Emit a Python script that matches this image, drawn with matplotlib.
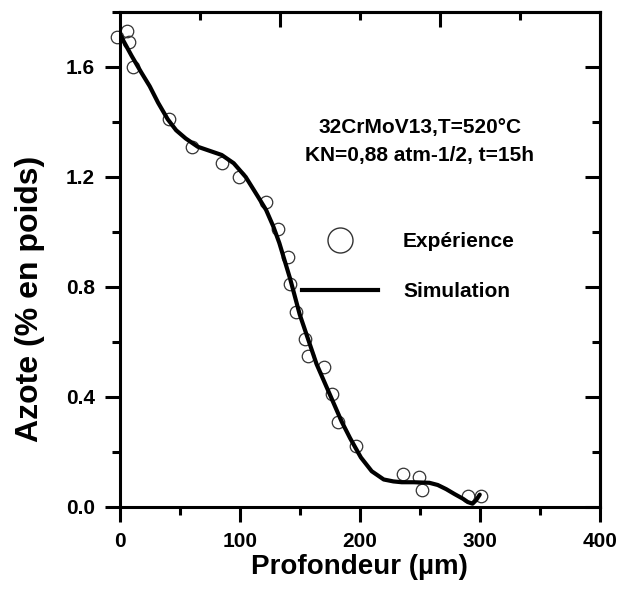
import matplotlib
matplotlib.use("Agg")
import matplotlib.pyplot as plt
from matplotlib.lines import Line2D
from matplotlib.ticker import MultipleLocator, FixedLocator

plt.rcParams['font.family'] = ['Liberation Sans', 'DejaVu Sans']
plt.rcParams['font.weight'] = 'bold'

# Experimental data (depth in µm, nitrogen wt%)
exp_x = [-2, 6, 8, 11, 41, 60, 85, 99, 122, 132, 140, 142, 147, 154, 157, 170,
         177, 182, 197, 236, 249, 252, 290, 301]
exp_y = [1.71, 1.73, 1.69, 1.60, 1.41, 1.31, 1.25, 1.20, 1.11, 1.01, 0.91, 0.81,
         0.71, 0.61, 0.55, 0.51, 0.41, 0.31, 0.22, 0.12, 0.11, 0.06, 0.04, 0.04]

# Simulation curve
sim_x = [0, 5, 10, 18, 25, 32, 40, 47, 55, 65, 75, 85, 95, 105, 115, 122, 128,
         133, 142, 150, 157, 164, 171, 178, 185, 192, 201, 210, 220, 228, 235,
         245, 258, 265, 272, 279, 286, 290, 294, 297, 300]
sim_y = [1.72, 1.68, 1.64, 1.58, 1.53, 1.47, 1.41, 1.37, 1.34, 1.31, 1.295,
         1.28, 1.25, 1.20, 1.13, 1.08, 1.02, 0.96, 0.83, 0.70, 0.61, 0.52, 0.45,
         0.38, 0.31, 0.25, 0.18, 0.13, 0.10, 0.093, 0.09, 0.09, 0.088, 0.08,
         0.065, 0.047, 0.03, 0.018, 0.012, 0.025, 0.045]

x_ticks = [0, 100, 200, 300, 400]
y_ticks = [0.0, 0.4, 0.8, 1.2, 1.6]
top_major = [133.3, 266.7]
top_minor = [66.7, 200, 333.3]

fig = plt.figure(figsize=(6.3, 5.9), dpi=100)
ax = fig.add_axes([0.19, 0.1407, 0.762, 0.839])

ax.plot(sim_x, sim_y, color='black', lw=3.0, solid_capstyle='round',
        solid_joinstyle='round', zorder=3)
ax.plot(exp_x, exp_y, linestyle='none', marker='o', markersize=9,
        markerfacecolor='none', markeredgecolor='#333333', markeredgewidth=0.9,
        clip_on=False, zorder=2)

ax.set_xlim(0, 400)
ax.set_ylim(0, 1.8)
ax.set_xticks(x_ticks)
ax.set_yticks(y_ticks)
ax.set_xticklabels([str(v) for v in x_ticks])
ax.set_yticklabels([f"{v:.1f}" for v in y_ticks])
ax.xaxis.set_minor_locator(MultipleLocator(50))
ax.yaxis.set_minor_locator(MultipleLocator(0.2))
ax.tick_params(axis='both', which='major', direction='out', length=11, width=2.2,
               labelsize=15, pad=7)
ax.tick_params(axis='both', which='minor', direction='out', length=6, width=2.2)
for lab in ax.get_xticklabels() + ax.get_yticklabels():
    lab.set_fontweight('bold')

# top axis ticks (inward)
axt = ax.secondary_xaxis('top')
axt.xaxis.set_major_locator(FixedLocator(top_major))
axt.xaxis.set_minor_locator(FixedLocator(top_minor))
axt.tick_params(which='major', direction='in', length=11, width=2.2, labeltop=False)
axt.tick_params(which='minor', direction='in', length=6, width=2.2)
axt.spines['top'].set_linewidth(2.2)

# right axis ticks (inward)
axr = ax.secondary_yaxis('right')
axr.yaxis.set_major_locator(FixedLocator(y_ticks))
axr.yaxis.set_minor_locator(FixedLocator([0.2, 0.6, 1.0, 1.4]))
axr.tick_params(which='major', direction='in', length=11, width=2.2, labelright=False)
axr.tick_params(which='minor', direction='in', length=6, width=2.2)
axr.spines['right'].set_linewidth(2.2)

for s in ax.spines.values():
    s.set_linewidth(2.2)

ax.set_xlabel('Profondeur (µm)', fontsize=20, fontweight='bold', labelpad=2)
ax.set_ylabel('Azote (% en poids)', fontsize=23, fontweight='bold')
ax.yaxis.set_label_coords(-0.156, 0.42)

ax.text(0.625, 0.766, '32CrMoV13,T=520°C', transform=ax.transAxes,
        ha='center', va='center', fontsize=15, fontweight='bold')
ax.text(0.625, 0.711, 'KN=0,88 atm-1/2, t=15h', transform=ax.transAxes,
        ha='center', va='center', fontsize=15, fontweight='bold')

handles = [
    Line2D([], [], linestyle='none', marker='o', markersize=18,
           markerfacecolor='none', markeredgecolor='#333333', markeredgewidth=1.0),
    Line2D([], [], color='black', lw=3.0),
]
leg = ax.legend(handles, ['Expérience', 'Simulation'], loc='upper left',
                bbox_to_anchor=(302 / 630, 1 - 232 / 590),
                bbox_transform=fig.transFigure, frameon=False,
                handlelength=3.65, handletextpad=1.2, labelspacing=1.5,
                borderpad=0, borderaxespad=0,
                prop={'size': 15, 'weight': 'bold'})

fig.savefig('out.png', dpi=100)
